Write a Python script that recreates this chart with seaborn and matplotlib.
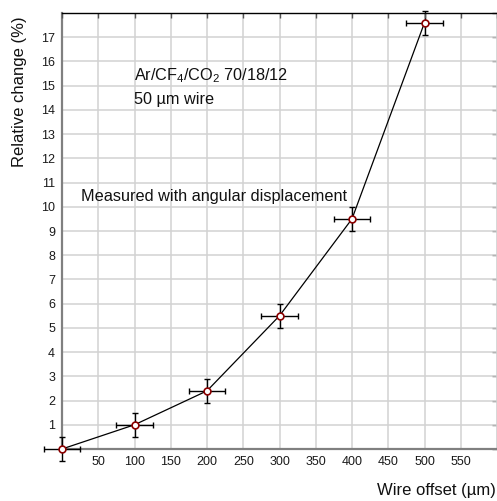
import matplotlib
matplotlib.use("Agg")
import matplotlib.pyplot as plt
import seaborn as sns
import pandas as pd
import numpy as np

# Measured relative change versus wire offset
offset_um = [0, 100, 200, 300, 400, 500]
rel_change_pct = [0.0, 1.0, 2.4, 5.5, 9.5, 17.6]
offset_err = [25, 25, 25, 25, 25, 25]
change_err = [0.5, 0.5, 0.5, 0.5, 0.5, 0.5]

x_ticks = list(range(0, 601, 50))
x_tick_labels = [""] + [str(v) for v in range(50, 551, 50)] + [""]
y_ticks = list(range(0, 19))
y_tick_labels = [""] + [str(v) for v in range(1, 18)] + [""]

sns.set_style("white")
plt.rcParams["font.family"] = ["Liberation Sans", "DejaVu Sans"]
plt.rcParams["mathtext.fontset"] = "custom"
plt.rcParams["mathtext.rm"] = "Liberation Sans"
plt.rcParams["mathtext.it"] = "Liberation Sans:italic"
plt.rcParams["mathtext.bf"] = "Liberation Sans:bold"

df = pd.DataFrame({"offset": offset_um, "change": rel_change_pct})

W, H = 497, 501
fig = plt.figure(figsize=(W / 100, H / 100), dpi=100)
ax = fig.add_axes([62 / W, 52 / H, 435 / W, 436 / H])

ax.set_xlim(0, 600)
ax.set_ylim(0, 18)
ax.set_xticks(x_ticks)
ax.set_xticklabels(x_tick_labels)
ax.set_yticks(y_ticks)
ax.set_yticklabels(y_tick_labels)
ax.grid(True, color="#d2d2d2", linewidth=1.1)
ax.set_axisbelow(True)

ax.tick_params(axis="both", direction="out", length=3, width=1.0,
               color="#555555", labelsize=9, labelcolor="#1a1a1a", pad=2)

for side in ("left", "bottom"):
    ax.spines[side].set_color("#808080")
    ax.spines[side].set_linewidth(1.6)
for side in ("top", "right"):
    ax.spines[side].set_visible(False)

# inward ticks along the top and right edges
sec_x = ax.secondary_xaxis("top")
sec_x.set_xticks(x_ticks)
sec_x.tick_params(direction="in", length=3.5, width=1.0, color="#555555",
                  labeltop=False)
sec_x.spines["top"].set_color("black")
sec_x.spines["top"].set_linewidth(1.0)
sec_x.set_zorder(6)
sec_y = ax.secondary_yaxis("right")
sec_y.set_yticks(y_ticks)
sec_y.tick_params(direction="in", length=3.5, width=1.0, color="#555555",
                  labelright=False)
sec_y.spines["right"].set_color("#808080")
sec_y.spines["right"].set_linewidth(0.9)

sns.lineplot(data=df, x="offset", y="change", ax=ax, color="black",
             linewidth=0.9, estimator=None, sort=False, zorder=3)

eb = ax.errorbar(offset_um, rel_change_pct, xerr=offset_err, yerr=change_err,
                 fmt="none", ecolor="black", elinewidth=1.0, capsize=2.4,
                 capthick=1.0, zorder=4)
for art in list(eb.lines[1]) + list(eb.lines[2]):
    art.set_clip_on(False)

sns.scatterplot(data=df, x="offset", y="change", ax=ax, marker="o", s=24,
                facecolor="white", edgecolor="#8b0000", linewidth=1.2,
                zorder=5, clip_on=False)

ax.set_xlabel("")
ax.set_ylabel("")

ax.text(100, 15.23, r"Ar/CF$_4$/CO$_2$ 70/18/12", fontsize=11.7,
        ha="left", va="baseline", color="#111111")
ax.text(100, 14.24, "50 µm wire", fontsize=11.7,
        ha="left", va="baseline", color="#111111")
ax.text(26, 10.24, "Measured with angular displacement", fontsize=11.7,
        ha="left", va="baseline", color="#111111")

fig.text(20 / W, 1 - 92 / H, "Relative change (%)", rotation=90,
         ha="center", va="center", fontsize=12, color="#111111")
fig.text(496 / W, 1 - 490 / H, "Wire offset (µm)", ha="right",
         va="center", fontsize=12, color="#111111")

fig.savefig("out.png", dpi=100)
